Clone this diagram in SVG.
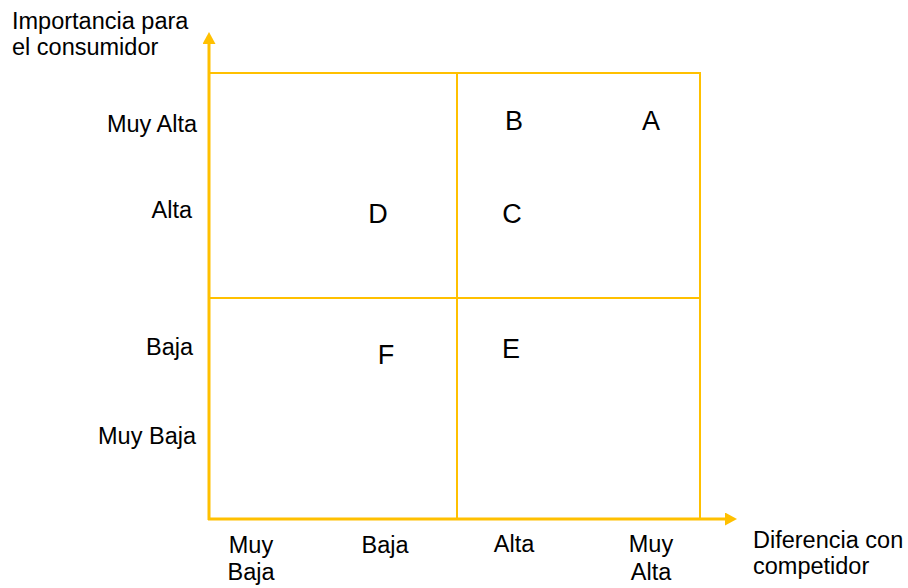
<svg xmlns="http://www.w3.org/2000/svg" width="908" height="588" viewBox="0 0 908 588">
<style>
.grid{fill:none;stroke:#FFC000;stroke-width:2}
.axis{stroke:#FFC000;stroke-width:3;fill:none}
.lbl{font-family:"Liberation Sans",Arial,sans-serif;font-size:23.5px;fill:#000}
.r{text-anchor:end}
.c{text-anchor:middle}
.let{font-family:"Liberation Sans",Arial,sans-serif;font-size:27px;fill:#000}
</style>
<defs>
<marker id="ah" viewBox="0 0 12 13" refX="0" refY="6.5" markerWidth="12" markerHeight="13" markerUnits="userSpaceOnUse" orient="auto">
<path d="M0,0 L12,6.5 L0,13 Z" fill="#FFC000"/>
</marker>
</defs>
<rect width="908" height="588" fill="#fff"/>
<g id="grid">
<rect class="grid" x="209" y="73" width="491" height="446"/>
<line class="grid" x1="457" y1="73" x2="457" y2="519"/>
<line class="grid" x1="209" y1="298" x2="700" y2="298"/>
</g>
<g id="connectors">
<line class="axis" x1="209" y1="520" x2="209" y2="44" marker-end="url(#ah)"/>
<line class="axis" x1="208" y1="519" x2="725" y2="519" marker-end="url(#ah)"/>
</g>
<g id="y-title"><text class="lbl" x="12" y="29">Importancia para</text><text class="lbl" x="12" y="55">el consumidor</text></g>
<g id="x-title"><text class="lbl" x="753" y="548">Diferencia con</text><text class="lbl" x="753" y="574">competidor</text></g>
<g id="y-labels">
<text class="lbl r" x="197" y="132">Muy Alta</text>
<text class="lbl r" x="192" y="218">Alta</text>
<text class="lbl r" x="193" y="355">Baja</text>
<text class="lbl r" x="196" y="444">Muy Baja</text>
</g>
<g id="x-labels">
<text class="lbl c" x="251" y="553">Muy</text><text class="lbl c" x="251" y="580">Baja</text>
<text class="lbl c" x="385" y="553">Baja</text>
<text class="lbl c" x="514" y="552">Alta</text>
<text class="lbl c" x="651" y="552">Muy</text><text class="lbl c" x="651" y="580">Alta</text>
</g>
<g id="node-A"><text class="let" x="651" y="130" text-anchor="middle" font-size="29">A</text></g>
<g id="node-B"><text class="let" x="514" y="130" text-anchor="middle">B</text></g>
<g id="node-C"><text class="let" x="512" y="223" text-anchor="middle">C</text></g>
<g id="node-D"><text class="let" x="378" y="223" text-anchor="middle">D</text></g>
<g id="node-E"><text class="let" x="511" y="358" text-anchor="middle">E</text></g>
<g id="node-F"><text class="let" x="386" y="364" text-anchor="middle">F</text></g>
</svg>
